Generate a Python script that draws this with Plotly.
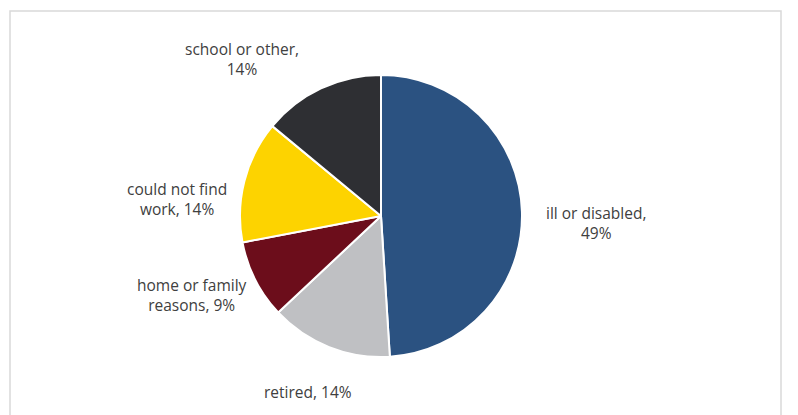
import plotly.graph_objects as go

categories = ["ill or disabled", "retired", "home or family reasons", "could not find work", "school or other"]
values = [49, 14, 9, 14, 14]
colors = ["#2B5281", "#BFC0C3", "#6C0D1B", "#FDD300", "#2E2F33"]

# label text layout (line breaks) and positions in pixels
label_texts = ["ill or disabled,<br>49%", "retired, 14%", "home or family<br>reasons, 9%",
               "could not find<br>work, 14%", "school or other,<br>14%"]
label_px = [(596, 223), (308, 392), (192, 295), (177, 199), (242, 59)]

W, H = 798, 415
OFF = 8  # page body margin offset

def fx(px):
    return (px - OFF) / W

def fy(py):
    return 1 - (py - OFF) / H

fig = go.Figure(go.Pie(
    labels=categories,
    values=values,
    sort=False,
    direction="clockwise",
    rotation=0,
    marker=dict(colors=colors, line=dict(color="white", width=2)),
    textinfo="none",
    hoverinfo="label+percent",
    showlegend=False,
    domain=dict(x=[fx(240), fx(522)], y=[fy(357), fy(75)]),
))

annotations = []
for txt, (px, py) in zip(label_texts, label_px):
    annotations.append(dict(
        x=fx(px), y=fy(py), xref="paper", yref="paper",
        text=txt, showarrow=False, xanchor="center", yanchor="middle",
        align="center",
        font=dict(family="Open Sans, sans-serif", size=15.5, color="#404040"),
    ))

fig.update_layout(
    width=W, height=H,
    margin=dict(l=0, r=0, t=0, b=0),
    paper_bgcolor="white",
    plot_bgcolor="white",
    annotations=annotations,
    shapes=[dict(type="rect", xref="paper", yref="paper",
                 x0=fx(10), x1=fx(781), y0=-0.05, y1=fy(11),
                 line=dict(color="#D9D9D9", width=1.5), fillcolor="rgba(0,0,0,0)")],
)

fig.write_html("out.html")
